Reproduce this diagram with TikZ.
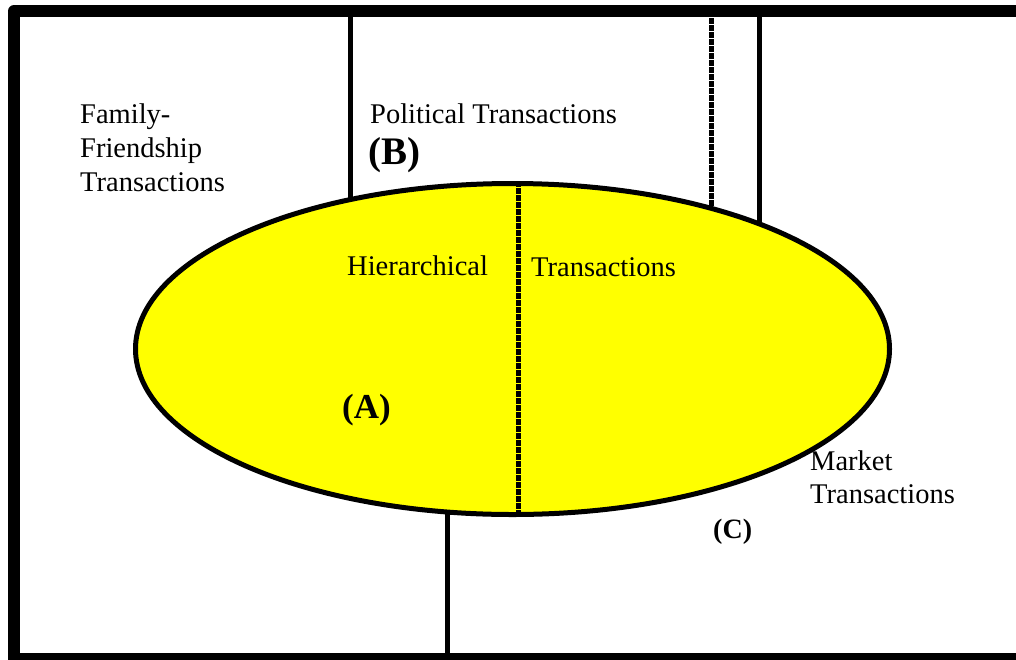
\documentclass[tikz,border=0pt]{standalone}
\usepackage{fontspec}
\setmainfont{Liberation Serif}
\usetikzlibrary{shapes.geometric}
\definecolor{ylw}{RGB}{255,255,0}
\begin{document}
\begin{tikzpicture}[x=1pt,y=-1pt,
  lbl/.style={anchor=base west,inner sep=0pt,font=\fontsize{28.5}{34}\selectfont},
  tag/.style={anchor=base west,inner sep=0pt,font=\bfseries\fontsize{#1}{#1}\selectfont},
  wall/.style={line width=5pt},
  dotwall/.style={line width=5pt,dash pattern=on 5.5pt off 1.5pt}]
\useasboundingbox (0,0) rectangle (1016,659);
\clip (0,0) rectangle (1016,659);
\draw[line width=12pt,line join=round] (14,11) rectangle (1030,659);
% dividing lines (drawn behind the ellipse)
\coordinate (t1) at (350,11);  \coordinate (e1) at (350,348);
\coordinate (t2) at (711,11);  \coordinate (e2) at (711,348);
\coordinate (t3) at (759,11);  \coordinate (e3) at (759,348);
\coordinate (b4) at (447,659); \coordinate (e4) at (447,348);
\draw[wall] (t1) -- (e1);
\draw[dotwall] (t2) -- (e2);
\draw[wall] (t3) -- (e3);
\draw[wall] (b4) -- (e4);
% ellipse
\node[ellipse,draw,fill=ylw,line width=5pt,minimum width=754pt,minimum height=331pt,inner sep=0pt] (el) at (512.5,349) {};
\draw[dotwall] ([xshift=5.5pt]el.north) -- ([xshift=5.5pt]el.south);
% labels
\node[lbl] (fam1) at (80,123) {Family-};
\node[lbl] (fam2) at (80,157) {Friendship};
\node[lbl] (fam3) at (80,191) {Transactions};
\node[lbl] (pol) at (370,123) {Political Transactions};
\node[tag=39] (B) at (368,164) {(B)};
\node[lbl] (hier) at (347,275) {Hierarchical};
\node[lbl] (tr) at (531,276) {Transactions};
\node[tag=35] (A) at (342,418) {(A)};
\node[lbl] (m1) at (810,470) {Market};
\node[lbl] (m2) at (810,503) {Transactions};
\node[tag=28] (C) at (713,538) {(C)};
\end{tikzpicture}
\end{document}
